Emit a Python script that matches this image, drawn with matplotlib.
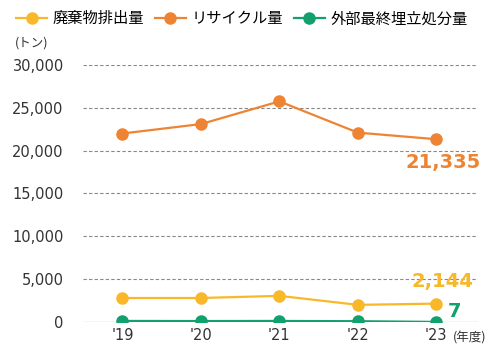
import matplotlib
matplotlib.use("Agg")
import matplotlib.pyplot as plt

plt.rcParams['font.family'] = ['Noto Sans CJK JP', 'DejaVu Sans']

years = ["'19", "'20", "'21", "'22", "'23"]
waste = [2800, 2800, 3050, 2000, 2144]
recycle = [22000, 23100, 25750, 22100, 21335]
landfill = [120, 110, 120, 90, 7]
yticks = [0, 5000, 10000, 15000, 20000, 25000, 30000]

c_waste = "#F9B82A"
c_recycle = "#EE8433"
c_landfill = "#12A06C"
num_font = ["DejaVu Sans"]

fig = plt.figure(figsize=(5.01, 3.55), dpi=100)
ax = fig.add_axes([0.166, 0.093, 0.788, 0.724])

x = list(range(len(years)))
ax.plot(x, waste, color=c_waste, marker="o", ms=8, lw=1.6, label="廃棄物排出量", zorder=3)
ax.plot(x, recycle, color=c_recycle, marker="o", ms=8, lw=1.6, label="リサイクル量", zorder=3)
ax.plot(x, landfill, color=c_landfill, marker="o", ms=8, lw=1.6, label="外部最終埋立処分量", zorder=3)

ax.set_xlim(-0.5, 4.53)
ax.set_ylim(0, 30000)
ax.set_yticks(yticks)
ax.set_yticklabels([f"{v:,}" for v in yticks], fontsize=10.5, color="#333333", family=num_font)
ax.set_xticks(x)
ax.set_xticklabels(years, fontsize=10.5, color="#333333", family=num_font)
ax.tick_params(length=0, pad=14)
ax.tick_params(axis="x", pad=4)
for s in ax.spines.values():
    s.set_visible(False)
for v in yticks[1:]:
    ax.axhline(v, color="#888888", lw=0.8, ls=(0, (3, 2)), zorder=1)
ax.axhline(0, color="#cccccc", lw=1, zorder=1)

ax.text(4.08, 18670, f"{recycle[-1]:,}", color=c_recycle, fontsize=14,
        fontweight="bold", ha="center", va="center", family=num_font)
ax.text(4.08, 4780, f"{waste[-1]:,}", color=c_waste, fontsize=14,
        fontweight="bold", ha="center", va="center", family=num_font)
ax.text(4.15, 1170, f"{landfill[-1]:,}", color=c_landfill, fontsize=14,
        fontweight="bold", ha="left", va="center", family=num_font)

fig.text(0.03, 0.878, "(トン)", fontsize=9, color="#333333", ha="left", va="center")
fig.text(0.903, 0.047, "(年度)", fontsize=9, color="#333333", ha="left", va="center")

fig.legend(loc="upper left", bbox_to_anchor=(0.005, 1.01), ncol=3, frameon=False,
           fontsize=11, handlelength=2.0, handletextpad=0.4, columnspacing=0.7)

fig.savefig("out.png", dpi=100)
